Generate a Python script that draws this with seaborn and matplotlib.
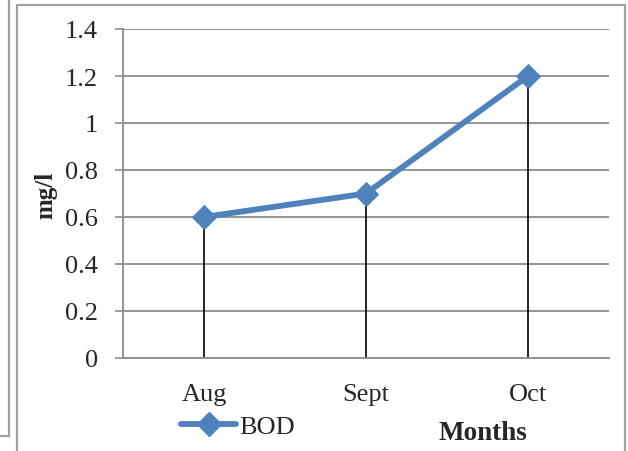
import matplotlib
matplotlib.use('Agg')
import matplotlib.pyplot as plt
from matplotlib.lines import Line2D
import seaborn as sns
import pandas as pd

# ==== Data ===================================================================
months = ['Aug', 'Sept', 'Oct']
bod = [0.6, 0.7, 1.2]
y_ticks = [0, 0.2, 0.4, 0.6, 0.8, 1.0, 1.2, 1.4]

df = pd.DataFrame({'Months': months, 'BOD': bod})

# ==== Settings ===============================================================
sns.set_style("white")
plt.rcParams['font.family'] = ['Liberation Serif', 'DejaVu Serif']
line_col = '#4F81BD'
grid_col = '#8c8c8c'

# ==== Figure =================================================================
fig = plt.figure(figsize=(6.28, 4.52), dpi=100)
W, H = 628, 452
ax = fig.add_axes([123 / W, 1 - 359 / H, (609 - 123) / W, (359 - 30) / H])

# ==== Frames (chart borders) =================================================
fig.add_artist(Line2D([9 / W, 9 / W], [1, 1 - 437 / H], color='#a0a0a0', lw=1.6))
fig.add_artist(Line2D([0, 9 / W], [1 - 437 / H, 1 - 437 / H], color='#a0a0a0', lw=1.6))
fig.add_artist(Line2D([17 / W, 17 / W, 625 / W, 625 / W],
                      [0, 1 - 6 / H, 1 - 6 / H, 0], color='#a0a0a0', lw=1.6))

# ==== Plot ===================================================================
for y in y_ticks:
    ax.axhline(y, color=grid_col, lw=1.3, zorder=0)
pos = list(range(len(months)))
ax.vlines(pos, 0, bod, color='black', lw=1.2, zorder=2)
sns.lineplot(data=df, x='Months', y='BOD', ax=ax, color=line_col, lw=4.2,
             marker='D', markersize=12.5, markeredgecolor=line_col,
             sort=False, zorder=3)

# ==== Axis ===================================================================
ax.set_xlim(-0.5, len(months) - 0.5)
ax.set_ylim(0, 1.4)
ax.set_yticks(y_ticks)
ax.set_yticklabels([f'{v:g}' for v in y_ticks])
ax.tick_params(axis='y', length=6, width=1.2, color=grid_col, pad=12,
               labelsize=19, left=True)
ax.tick_params(axis='x', length=0, pad=18, labelsize=19)
for s in ['top', 'right']:
    ax.spines[s].set_visible(False)
for s in ['left', 'bottom']:
    ax.spines[s].set_color(grid_col)
    ax.spines[s].set_linewidth(1.3)
ax.set_xlabel('')
ax.set_ylabel('')

# ==== Labels =================================================================
fig.text(46 / W, 1 - 195 / H, 'mg/l', rotation=90, fontsize=18,
         fontweight='bold', ha='center', va='center')
fig.text(483 / W, 1 - 434 / H, 'Months', fontsize=19.5, fontweight='bold',
         ha='center', va='center')
handle = Line2D([], [], color=line_col, lw=4.2, marker='D', markersize=12.5)
fig.legend([handle], ['BOD'], loc='center left',
           bbox_to_anchor=(181 / W, 1 - 427 / H), frameon=False,
           fontsize=19, handlelength=2.1, handletextpad=0.1,
           borderpad=0, borderaxespad=0)

fig.savefig('out.png', dpi=100)
